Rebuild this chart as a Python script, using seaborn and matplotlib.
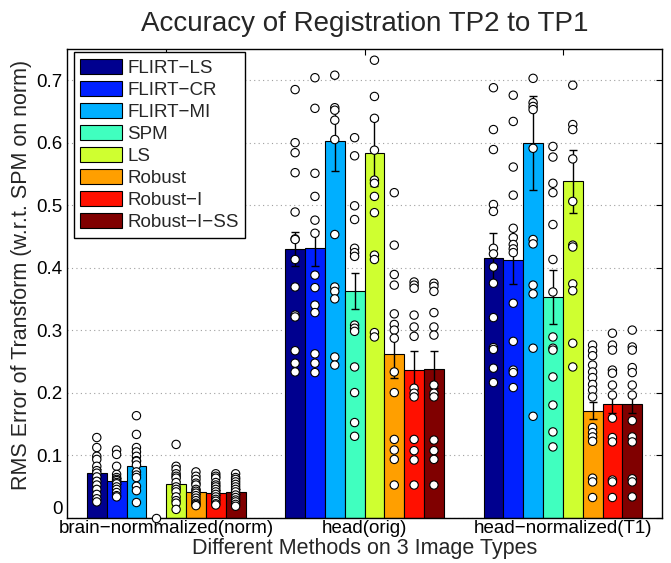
import numpy as np
import pandas as pd
import seaborn as sns
import matplotlib.pyplot as plt
from matplotlib.container import BarContainer
from matplotlib.ticker import FuncFormatter

image_types = ['brain−normmalized(norm)', 'head(orig)', 'head−normalized(T1)']
methods = ['FLIRT−LS', 'FLIRT−CR', 'FLIRT−MI', 'SPM', 'LS', 'Robust', 'Robust−I', 'Robust−I−SS']

# bar heights (mean RMS error) per image type, one value per method
mean_norm = [0.072, 0.059, 0.082, 0.0, 0.053, 0.041, 0.040, 0.041]
mean_orig = [0.430, 0.431, 0.602, 0.363, 0.584, 0.261, 0.236, 0.237]
mean_t1 = [0.416, 0.413, 0.599, 0.353, 0.538, 0.171, 0.181, 0.181]

# error bar half lengths
err_norm = [0.006, 0.005, 0.007, 0.0, 0.006, 0.004, 0.004, 0.004]
err_orig = [0.027, 0.028, 0.048, 0.029, 0.053, 0.038, 0.031, 0.030]
err_t1 = [0.040, 0.040, 0.075, 0.044, 0.051, 0.014, 0.014, 0.014]

# individual subjects (only the ones visible inside the axes)
pts_norm = [
    [0.128, 0.112, 0.098, 0.093, 0.082, 0.075, 0.071, 0.065, 0.058, 0.052, 0.045, 0.037, 0.030, 0.025],
    [0.108, 0.101, 0.082, 0.069, 0.064, 0.061, 0.059, 0.056, 0.054, 0.049, 0.045, 0.040, 0.035, 0.033],
    [0.163, 0.133, 0.112, 0.105, 0.098, 0.091, 0.090, 0.084, 0.073, 0.068, 0.064, 0.050, 0.043, 0.024],
    [0.0],
    [0.117, 0.082, 0.077, 0.070, 0.066, 0.063, 0.056, 0.049, 0.045, 0.041, 0.033, 0.027, 0.023, 0.013],
    [0.073, 0.066, 0.061, 0.055, 0.052, 0.045, 0.042, 0.039, 0.035, 0.031, 0.027, 0.023, 0.021, 0.019],
    [0.070, 0.066, 0.063, 0.056, 0.052, 0.049, 0.045, 0.041, 0.037, 0.033, 0.029, 0.026, 0.022, 0.020],
    [0.070, 0.064, 0.061, 0.057, 0.053, 0.049, 0.045, 0.041, 0.036, 0.032, 0.028, 0.025, 0.021, 0.018],
]
pts_orig = [
    [0.685, 0.600, 0.584, 0.552, 0.489, 0.446, 0.445, 0.413, 0.369, 0.324, 0.321, 0.267, 0.247, 0.233],
    [0.704, 0.655, 0.551, 0.514, 0.476, 0.455, 0.388, 0.368, 0.340, 0.328, 0.262, 0.247, 0.232],
    [0.708, 0.656, 0.652, 0.636, 0.605, 0.453, 0.369, 0.362, 0.350, 0.257, 0.244],
    [0.608, 0.579, 0.499, 0.477, 0.431, 0.424, 0.418, 0.308, 0.303, 0.298, 0.241, 0.200, 0.152, 0.130],
    [0.732, 0.674, 0.639, 0.588, 0.540, 0.535, 0.514, 0.488, 0.420, 0.413, 0.296, 0.289],
    [0.520, 0.436, 0.389, 0.372, 0.326, 0.309, 0.300, 0.287, 0.233, 0.200, 0.125, 0.108, 0.093, 0.052],
    [0.377, 0.372, 0.367, 0.324, 0.305, 0.290, 0.207, 0.199, 0.193, 0.125, 0.107, 0.092, 0.052],
    [0.375, 0.370, 0.362, 0.328, 0.305, 0.292, 0.212, 0.199, 0.193, 0.124, 0.107, 0.093, 0.052],
]
pts_t1 = [
    [0.688, 0.621, 0.589, 0.501, 0.490, 0.431, 0.422, 0.401, 0.375, 0.320, 0.272, 0.269, 0.239, 0.216],
    [0.676, 0.634, 0.561, 0.516, 0.463, 0.448, 0.437, 0.430, 0.424, 0.343, 0.282, 0.236, 0.232, 0.208],
    [0.703, 0.664, 0.658, 0.653, 0.591, 0.445, 0.438, 0.372, 0.358, 0.271, 0.162],
    [0.594, 0.577, 0.535, 0.520, 0.469, 0.413, 0.361, 0.289, 0.271, 0.268, 0.225, 0.180, 0.137, 0.113],
    [0.692, 0.629, 0.621, 0.574, 0.506, 0.436, 0.433, 0.374, 0.363, 0.279, 0.241],
    [0.276, 0.267, 0.259, 0.244, 0.233, 0.224, 0.213, 0.204, 0.193, 0.144, 0.136, 0.129, 0.122, 0.063, 0.057, 0.032],
    [0.295, 0.276, 0.268, 0.236, 0.231, 0.212, 0.196, 0.159, 0.128, 0.121, 0.060, 0.057, 0.032],
    [0.300, 0.273, 0.268, 0.240, 0.232, 0.212, 0.196, 0.155, 0.129, 0.121, 0.062, 0.057, 0.033],
]

# matlab jet colours used for the 8 series
colors = [(0, 0, 0.5625), (0, 0.125, 1), (0, 0.6875, 1), (0.25, 1, 0.75),
          (0.8125, 1, 0.1875), (1, 0.625, 0), (1, 0.0625, 0), (0.5, 0, 0)]

bars = pd.DataFrame({
    'type': np.repeat(image_types, len(methods)),
    'method': methods * 3,
    'rms': mean_norm + mean_orig + mean_t1,
})
rows = []
for t, group in zip(image_types, [pts_norm, pts_orig, pts_t1]):
    for m, vals in zip(methods, group):
        for v in vals:
            rows.append((t, m, v))
pts = pd.DataFrame(rows, columns=['type', 'method', 'rms'])

sns.set_style('white')
plt.rcParams['font.family'] = ['Liberation Sans', 'DejaVu Sans']

fig, ax = plt.subplots(figsize=(6.71, 5.63), dpi=100)
fig.subplots_adjust(left=0.0999, right=0.9866, bottom=0.0808, top=0.913)

ax.set_axisbelow(True)
ax.yaxis.grid(True, linestyle=(0, (1, 3)), color='#a0a0a0', linewidth=0.8)

sns.barplot(data=bars, x='type', y='rms', hue='method', order=image_types,
            hue_order=methods, palette=colors, saturation=1, errorbar=None,
            edgecolor='black', linewidth=0.8, width=0.8, ax=ax)

# error bars at the bar centres, one bar container per method
bar_conts = [c for c in ax.containers if isinstance(c, BarContainer)]
errs = list(zip(err_norm, err_orig, err_t1))
for cont, e_m in zip(bar_conts, errs):
    for p, e in zip(cont.patches, e_m):
        if e > 0:
            ax.errorbar(p.get_x() + p.get_width() / 2, p.get_height(), yerr=e,
                        color='black', capsize=3, elinewidth=1, capthick=1, zorder=3)

sns.stripplot(data=pts, x='type', y='rms', hue='method', order=image_types,
              hue_order=methods, dodge=True, jitter=False, palette=['white'] * 8,
              edgecolor='black', linewidth=0.8, size=6, legend=False, ax=ax,
              zorder=4, clip_on=False)

ax.set_xlim(-0.5, 2.5)
ax.set_ylim(0, 0.75)
ax.set_yticks([0, 0.1, 0.2, 0.3, 0.4, 0.5, 0.6, 0.7])
ax.yaxis.set_major_formatter(FuncFormatter(lambda v, _: '0' if v == 0 else f'{v:.1f}'))
ax.tick_params(direction='in', top=True, right=True, length=4.3, width=0.8,
               labelsize=13.5, colors='black', pad=3)
ax.tick_params(axis='x', pad=1.5)
for s in ax.spines.values():
    s.set_visible(True)
    s.set_color('black')
    s.set_linewidth(1)
# the "0" label sits just above the axis line, clear of the category labels
ax.yaxis.get_major_ticks()[0].label1.set_va('bottom')

ax.set_title('Accuracy of Registration TP2 to TP1', fontsize=20, pad=13)
ax.set_xlabel('Different Methods on 3 Image Types', fontsize=15.5, labelpad=1)
ax.set_ylabel('RMS Error of Transform (w.r.t. SPM on norm)', fontsize=15.5, labelpad=3)
ax.yaxis.label.set_y(0.517)

sns.move_legend(ax, 'upper left', bbox_to_anchor=(0.011, 0.993), title=None,
                frameon=True, fancybox=False, framealpha=1, edgecolor='black',
                fontsize=13.5, handlelength=2.25, handleheight=0.9, labelspacing=0.2,
                handletextpad=0.27, borderpad=0.35, borderaxespad=0)
leg = ax.get_legend()
leg.get_frame().set_linewidth(1)
for h in leg.legend_handles:
    h.set_edgecolor('black')
    h.set_linewidth(0.8)

plt.savefig('out.png', dpi=100)
